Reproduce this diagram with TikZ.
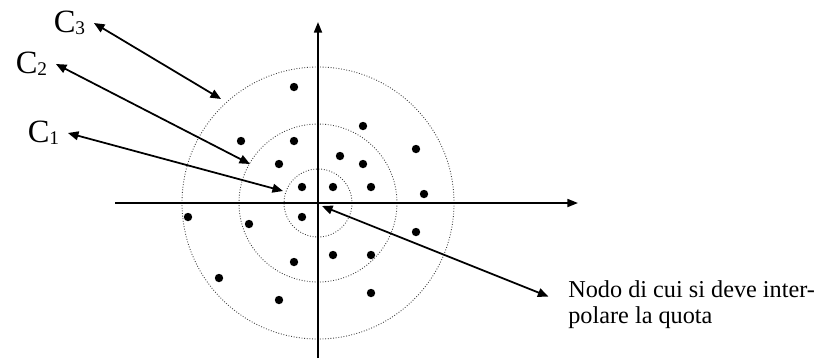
\documentclass[tikz,border=0pt]{standalone}
\usepackage{fontspec}
\setmainfont{Liberation Serif}
\usetikzlibrary{arrows.meta}
\newcommand{\cring}[1]{C\raisebox{-1pt}{\fontsize{11}{12}\selectfont #1}}

\begin{document}
\begin{tikzpicture}[
  x=0.02cm, y=-0.02cm,
  lbl/.style={font=\fontsize{18.5}{20}\selectfont, inner sep=2pt, outer sep=3pt, anchor=west},
  note/.style={font=\fontsize{13.8}{14.8}\selectfont, align=left, inner sep=0pt, anchor=north west},
  axis/.style={-{Triangle[length=6pt,width=4.5pt]}, line width=1.1pt},
  ring/.style={densely dotted, line width=0.5pt, draw=black!75},
  arr/.style={{Triangle[length=6pt,width=5pt]}-{Triangle[length=6pt,width=5pt]}, line width=1pt},
]
\useasboundingbox (0,0) rectangle (818,360);
\coordinate (o)  at (318,203);
\coordinate (xl) at (115,203);
\coordinate (xr) at (578,203);
\coordinate (yb) at (318,358);
\coordinate (yt) at (318,22);
\draw[ring] (o) circle (34);
\draw[ring] (o) circle (79);
\draw[ring] (o) circle (136);
\draw[axis] (xl) -- (xr);
\draw[axis] (yb) -- (yt);
%% sample points around the node
\foreach \px/\py in {294/87, 241/141, 294/141, 363/126, 416/149, 279/164,
  340/156, 363/164, 302/187, 333/187, 371/187, 424/194, 188/217, 302/217,
  249/224, 416/232, 333/255, 371/255, 294/262, 219/278, 279/300, 371/293}
  \fill (\px,\py) circle (4.2);
\node[lbl] (c3) at (45,23)  {\cring{3}};
\node[lbl] (c2) at (7,64)   {\cring{2}};
\node[lbl] (c1) at (19,133) {\cring{1}};
\node[note] (nodo) at (568,280) {Nodo di cui si deve inter-\\polare la quota};
\coordinate (t3) at (221,99);
\coordinate (t2) at (250,164);
\coordinate (t1) at (283,191);
\coordinate (q)  at (322,206);
\draw[arr] (c3.east) -- (t3);
\draw[arr] (c2.east) -- (t2);
\draw[arr] (c1.east) -- (t1);
\draw[arr, shorten >=12pt] (q) -- (nodo.west);
\end{tikzpicture}
\end{document}
